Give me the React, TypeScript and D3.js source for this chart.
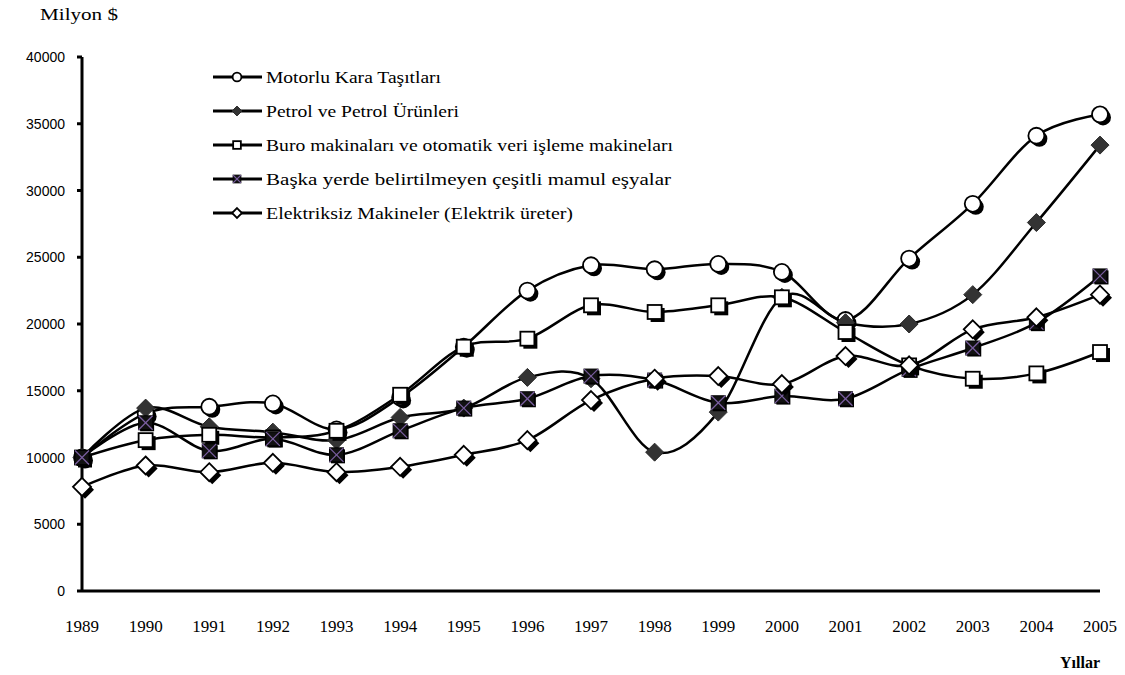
import React from "react";
import * as d3 from "d3";

const years = [1989, 1990, 1991, 1992, 1993, 1994, 1995, 1996, 1997, 1998, 1999, 2000, 2001, 2002, 2003, 2004, 2005];
const motorlu = [10000, 13300, 13800, 14050, 12100, 14500, 18300, 22500, 24400, 24100, 24500, 23900, 20300, 24900, 29000, 34100, 35700];
const petrol = [10000, 13700, 12300, 11900, 11300, 13000, 13700, 16000, 15900, 10400, 13400, 22000, 20100, 20000, 22200, 27600, 33400];
const buro = [10000, 11300, 11700, 11500, 12000, 14700, 18300, 18900, 21400, 20900, 21400, 22000, 19400, 16900, 15900, 16300, 17900];
const baska = [10000, 12600, 10500, 11400, 10200, 12000, 13700, 14400, 16100, 15800, 14100, 14600, 14400, 16600, 18200, 20100, 23600];
const elektriksiz = [7800, 9400, 8900, 9600, 8900, 9300, 10200, 11300, 14300, 15900, 16100, 15500, 17600, 16900, 19600, 20500, 22200];
const yTicks = [0, 5000, 10000, 15000, 20000, 25000, 30000, 35000, 40000];
const seriesNames = [
  "Motorlu Kara Taşıtları",
  "Petrol ve Petrol Ürünleri",
  "Buro makinaları ve otomatik veri işleme makineları",
  "Başka yerde belirtilmeyen çeşitli mamul eşyalar",
  "Elektriksiz Makineler (Elektrik üreter)",
];
const markerTypes = ["circle", "darkDiamond", "square", "xsquare", "diamond"];
const legendWidths = [175, 193, 407, 405, 307];

const W = 1125, H = 675;
const x = d3.scaleLinear().domain([1989, 2005]).range([82, 1100]);
const y = d3.scaleLinear().domain([0, 40000]).range([591, 57]);

function Marker({ type, cx, cy, s = 1, shadow = true }: { type: string; cx: number; cy: number; s?: number; shadow?: boolean }) {
  const sh = shadow ? 3 : 0;
  if (type === "circle") {
    const r = 8 * s;
    return (
      <g>
        {shadow && <circle cx={cx + sh} cy={cy + sh} r={r} fill="#000" />}
        <circle cx={cx} cy={cy} r={r} fill="#fff" stroke="#000" strokeWidth={1.8} />
      </g>
    );
  }
  if (type === "square") {
    const h = 7 * s;
    return (
      <g>
        {shadow && <rect x={cx - h + sh} y={cy - h + sh} width={2 * h} height={2 * h} fill="#000" />}
        <rect x={cx - h} y={cy - h} width={2 * h} height={2 * h} fill="#fff" stroke="#000" strokeWidth={1.8} />
      </g>
    );
  }
  if (type === "diamond") {
    const h = 9 * s;
    const p = (dx: number, dy: number) => `${cx + dx},${cy - h + dy} ${cx + h + dx},${cy + dy} ${cx + dx},${cy + h + dy} ${cx - h + dx},${cy + dy}`;
    return (
      <g>
        {shadow && <polygon points={p(sh, sh)} fill="#000" />}
        <polygon points={p(0, 0)} fill="#fff" stroke="#000" strokeWidth={1.8} />
      </g>
    );
  }
  if (type === "darkDiamond") {
    const h = 9 * s;
    const pts = `${cx},${cy - h} ${cx + h},${cy} ${cx},${cy + h} ${cx - h},${cy}`;
    return <polygon points={pts} fill="#333" stroke="#2a2a2a" strokeWidth={1} />;
  }
  // xsquare
  const h = 7 * s;
  return (
    <g>
      {shadow && <rect x={cx - h + 1.5} y={cy - h + 1.5} width={2 * h} height={2 * h} fill="#000" />}
      <rect x={cx - h} y={cy - h} width={2 * h} height={2 * h} fill="#111" stroke="#000" strokeWidth={1} />
      <line x1={cx - h} y1={cy - h} x2={cx + h} y2={cy + h} stroke="#7a5fa0" strokeWidth={1.2} />
      <line x1={cx - h} y1={cy + h} x2={cx + h} y2={cy - h} stroke="#7a5fa0" strokeWidth={1.2} />
    </g>
  );
}

export default function App() {
  const allSeries = [motorlu, petrol, buro, baska, elektriksiz];
  const line = d3
    .line<number>()
    .x((_, i) => x(years[i]))
    .y((d) => y(d))
    .curve(d3.curveCardinal.tension(0));

  return (
    <svg width={W} height={H} style={{ position: "absolute", left: 0, top: 0, background: "#fff" }}>
      <rect width={W} height={H} fill="#fff" />
      <text x={40} y={20} fontFamily="Liberation Serif" fontSize={16} textLength={78} lengthAdjust="spacingAndGlyphs">Milyon $</text>
      {/* y axis */}
      <line x1={82} y1={y(40000)} x2={82} y2={y(0)} stroke="#000" strokeWidth={3} />
      <line x1={82} y1={y(0)} x2={x(2005)} y2={y(0)} stroke="#000" strokeWidth={3} />
      {yTicks.map((t) => (
        <g key={t}>
          <line x1={77} y1={y(t)} x2={82} y2={y(t)} stroke="#000" strokeWidth={3} />
          <text x={65} y={y(t) + 5} textAnchor="end" fontFamily="Liberation Sans" fontSize={14}>{t}</text>
        </g>
      ))}
      {years.map((yr) => (
        <text key={yr} x={x(yr)} y={632} textAnchor="middle" fontFamily="Liberation Serif" fontSize={17}>{yr}</text>
      ))}
      <text x={1060} y={668} fontFamily="Liberation Serif" fontSize={16} fontWeight="bold" textLength={40} lengthAdjust="spacingAndGlyphs">Yıllar</text>
      {allSeries.map((s, si) => (
        <g key={si}>
          <path d={line(s) || ""} fill="none" stroke="#000" strokeWidth={2.5} />
          {s.map((v, i) => (
            <Marker key={i} type={markerTypes[si]} cx={x(years[i])} cy={y(v)} />
          ))}
        </g>
      ))}
      {/* legend */}
      {seriesNames.map((n, i) => {
        const ly = 77 + i * 34;
        return (
          <g key={n}>
            <line x1={213} y1={ly} x2={262} y2={ly} stroke="#000" strokeWidth={3} />
            <Marker type={markerTypes[i]} cx={237} cy={ly} s={0.55} shadow={false} />
            <text x={266} y={ly + 6} fontFamily="Liberation Serif" fontSize={17} textLength={legendWidths[i]} lengthAdjust="spacingAndGlyphs">{n}</text>
          </g>
        );
      })}
    </svg>
  );
}
